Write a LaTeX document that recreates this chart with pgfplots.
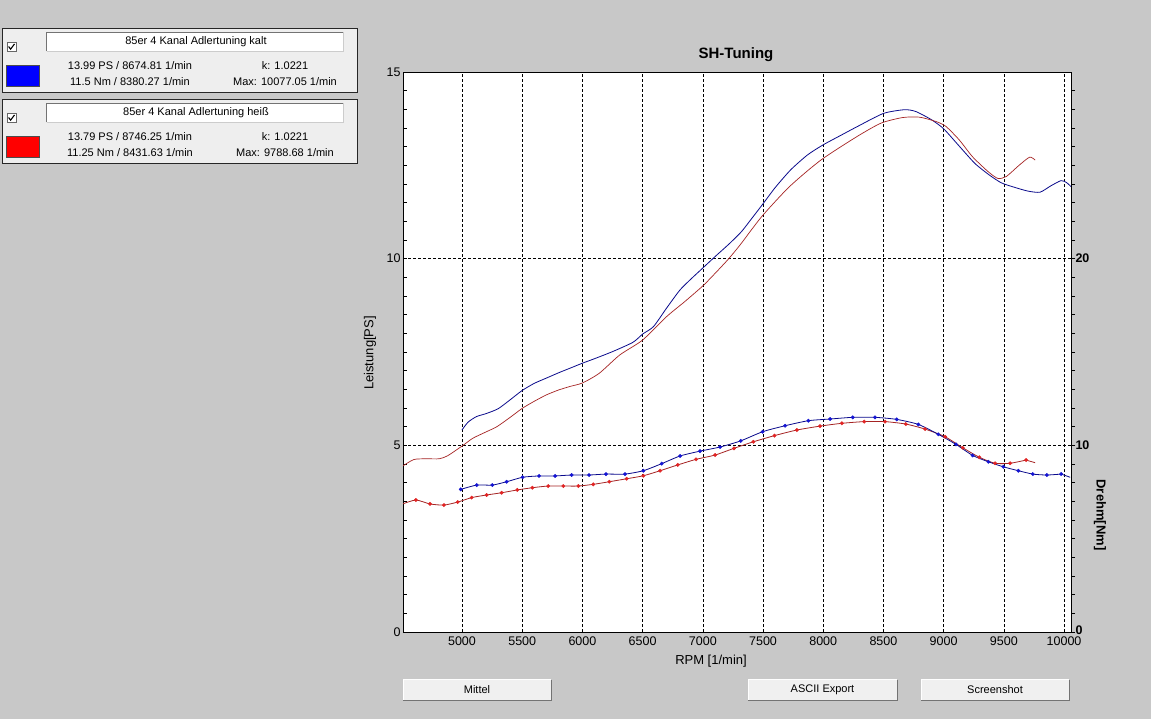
\documentclass[border=0pt]{standalone}
\usepackage{pgfplots}
\pgfplotsset{compat=1.18}
\usepackage{fontspec}
\setmainfont{Liberation Sans}
\newcommand\fs[1]{\fontsize{#1}{#1}\selectfont}
\definecolor{bg}{RGB}{200,200,200}
\definecolor{panel}{RGB}{238,238,238}
\definecolor{blueline}{RGB}{10,10,140}
\definecolor{bluemark}{RGB}{20,20,210}
\definecolor{redline}{RGB}{165,35,35}
\definecolor{redmark}{RGB}{225,35,35}
\definecolor{btn}{RGB}{240,240,240}

\pgfplotstableread{
rpm ps
5000 5.41
5050 5.62
5120 5.77
5200 5.85
5300 5.98
5400 6.22
5500 6.47
5600 6.66
5700 6.80
5800 6.94
5900 7.07
6000 7.20
6100 7.32
6250 7.51
6420 7.76
6500 7.98
6590 8.18
6700 8.68
6810 9.16
6900 9.45
7000 9.75
7100 10.05
7220 10.40
7320 10.72
7400 11.05
7500 11.47
7600 11.90
7730 12.38
7870 12.78
8000 13.05
8150 13.31
8290 13.55
8500 13.89
8675 13.99
8770 13.94
8900 13.72
9000 13.48
9120 13.05
9260 12.55
9380 12.24
9480 12.03
9590 11.91
9700 11.81
9800 11.78
9890 11.95
9975 12.09
10020 12.04
10058 11.93
}\bluepower

\pgfplotstableread{
rpm ps
4510 4.45
4600 4.62
4700 4.64
4810 4.64
4880 4.72
5000 4.98
5090 5.19
5200 5.36
5290 5.50
5400 5.75
5500 5.99
5600 6.18
5700 6.35
5800 6.48
5900 6.58
6000 6.67
6140 6.93
6310 7.42
6500 7.82
6700 8.45
6850 8.85
7000 9.27
7100 9.60
7210 9.98
7310 10.37
7490 11.13
7720 11.93
7980 12.64
8280 13.27
8480 13.63
8660 13.78
8800 13.79
8940 13.67
9020 13.54
9130 13.18
9240 12.73
9370 12.33
9450 12.15
9520 12.20
9630 12.51
9715 12.72
9760 12.64
}\redpower

\pgfplotstableread{
rpm nm
4990 7.64
5122 7.87
5252 7.87
5371 8.05
5504 8.29
5640 8.36
5773 8.36
5911 8.41
6055 8.41
6196 8.46
6354 8.46
6506 8.64
6659 9.02
6811 9.43
6977 9.69
7143 9.91
7315 10.24
7497 10.73
7683 11.05
7877 11.32
8057 11.41
8245 11.50
8430 11.50
8610 11.39
8790 11.12
8956 10.59
9103 10.05
9241 9.46
9371 9.12
9496 8.85
9621 8.64
9741 8.46
9857 8.41
9976 8.46
}\bluetorque

\pgfplotstableread{
rpm nm
4507 6.86
4617 7.07
4734 6.86
4850 6.80
4964 6.96
5080 7.20
5204 7.34
5329 7.46
5459 7.61
5584 7.73
5716 7.82
5841 7.82
5966 7.82
6090 7.91
6223 8.05
6368 8.21
6506 8.37
6645 8.64
6792 8.95
6944 9.25
7102 9.48
7259 9.84
7420 10.19
7595 10.52
7781 10.82
7974 11.03
8155 11.18
8340 11.27
8514 11.27
8686 11.14
8846 10.87
9012 10.46
9159 9.87
9297 9.36
9427 9.04
9552 9.04
9685 9.21
}\redtorque

\begin{document}
\begin{tikzpicture}
\begin{scope}[x=1pt,y=-1pt]
% background
\fill[bg] (0,0) rectangle (1151,719);
% legend panels
\foreach \dy/\lab/\col/\la/\lb/\lc in {0/{85er 4 Kanal Adlertuning kalt}/blue/{13.99 PS / 8674.81 1/min}/{11.5 Nm / 8380.27 1/min}/{Max: 10077.05 1/min},
  71/{85er 4 Kanal Adlertuning hei\ss}/red/{13.79 PS / 8746.25 1/min}/{11.25 Nm / 8431.63 1/min}/{Max: 9788.68 1/min}}{
  \begin{scope}[yshift=-\dy pt]
  \fill[panel] (2,29) rectangle (357,93);
  \draw[black!85, line width=1pt] (2,29) rectangle (357,93);
  % text field
  \fill[white] (46.5,32.5) rectangle (343.5,51.5);
  \draw[black!55, line width=0.8pt] (46.5,51.5) -- (46.5,32.5) -- (343.5,32.5);
  \draw[black!20, line width=0.8pt] (343.5,32.5) -- (343.5,51.5) -- (46.5,51.5);
  \node[font=\fs{11}] at (196,42) {\lab};
  % checkbox
  \fill[white] (7,42.5) rectangle (16,51.5);
  \draw[black!60, line width=0.7pt] (7,42.5) rectangle (16,51.5);
  \draw[black, line width=1.1pt] (8.6,46.5) -- (10.6,49.2) -- (14.5,44);
  % colour swatch
  \fill[\col] (6,65) rectangle (39,86);
  \draw[black!70, line width=0.6pt] (6,65) rectangle (39,86);
  \node[font=\fs{11}] at (130,66) {\la};
  \node[font=\fs{11}] at (130,82) {\lb};
  \node[font=\fs{11}] at (285,66) {k: 1.0221};
  \node[font=\fs{11}] at (285,82) {\lc};
  \end{scope}
}
% title
\node[font=\fs{15}\bfseries] at (736,55) {SH-Tuning};
% axis labels
\node[font=\fs{13}, rotate=90] at (370,353) {Leistung[PS]};
\node[font=\fs{13}\bfseries, rotate=-90] at (1100,515) {Drehm[Nm]};
\node[font=\fs{13}] at (711,661) {RPM [1/min]};
\node[font=\fs{7}, anchor=west] at (463,539) {NOT FOR SALE};
% buttons
\foreach \xa/\xb/\txt in {403/551/Mittel, 748/897/ASCII Export, 921/1069/Screenshot}{
  \fill[btn] (\xa,679.5) rectangle (\xb,700.5);
  \draw[white, line width=1pt] (\xa,700.5) -- (\xa,679.5) -- (\xb,679.5);
  \draw[black!55, line width=1pt] (\xb,679.5) -- (\xb,700.5) -- (\xa,700.5);
  \node[font=\fs{11}] at ({(\xa+\xb)/2},690) {\txt};
}
\end{scope}

\begin{axis}[
  at={(403pt,-632pt)}, anchor=south west,
  scale only axis, width=668pt, height=560pt,
  xmin=4510, xmax=10058, ymin=0, ymax=15,
  axis background/.style={fill=white},
  axis line style={black, line width=0.9pt},
  xtick={5000,5500,...,10000},
  scaled x ticks=false,
  xticklabel={\pgfmathprintnumber[fixed,precision=0,1000 sep={}]{\tick}},
  ytick={0,5,10,15},
  minor ytick={0.5,1,...,14.5},
  ytick pos=left, xtick pos=bottom,
  tick align=inside,
  major tick length=4pt, minor tick length=4pt,
  x tick style={draw=none},
  tick style={black, line width=0.6pt},
  xmajorgrids, ymajorgrids,
  major grid style={black, dash pattern=on 3pt off 2pt, line width=0.6pt},
  /pgf/number format/assume math mode=true,
  /pgf/number format/1000 sep={},
  ticklabel style={font=\fs{12.5}},
  xticklabel style={yshift=-1pt},
  yticklabel style={xshift=1pt},
  clip=true,
]
\addplot[blueline, line width=0.8pt, smooth, tension=0.4, no marks] table[x=rpm,y=ps]{\bluepower};
\addplot[redline, line width=0.7pt, smooth, tension=0.4, no marks] table[x=rpm,y=ps]{\redpower};
\end{axis}

\begin{axis}[
  at={(403pt,-632pt)}, anchor=south west,
  scale only axis, width=668pt, height=560pt,
  xmin=4510, xmax=10058, ymin=0, ymax=30,
  axis x line=none, axis y line*=right,
  axis line style={black, line width=0.9pt},
  ytick={0,10,20},
  minor ytick={1,2,...,29},
  tick align=outside,
  major tick length=4pt, minor tick length=4pt,
  tick style={black, line width=0.6pt},
  /pgf/number format/assume math mode=true,
  ticklabel style={font=\fs{12.5}\bfseries},
  yticklabel style={xshift=-3pt},
  yticklabels={\raisebox{3pt}{0},10,20},
  clip=true,
]
\addplot[redline, line width=0.8pt, smooth, tension=0.4, no marks] table[x=rpm,y=nm]{\redtorque} -- (axis cs:9760,9.07);
\addplot[redmark, only marks, mark=*, mark size=1.7pt] table[x=rpm,y=nm]{\redtorque};
\addplot[blueline, line width=0.8pt, smooth, tension=0.4, no marks] table[x=rpm,y=nm]{\bluetorque} -- (axis cs:10051,8.29);
\addplot[bluemark, only marks, mark=*, mark size=1.7pt] table[x=rpm,y=nm]{\bluetorque};
\end{axis}
\end{tikzpicture}
\end{document}
